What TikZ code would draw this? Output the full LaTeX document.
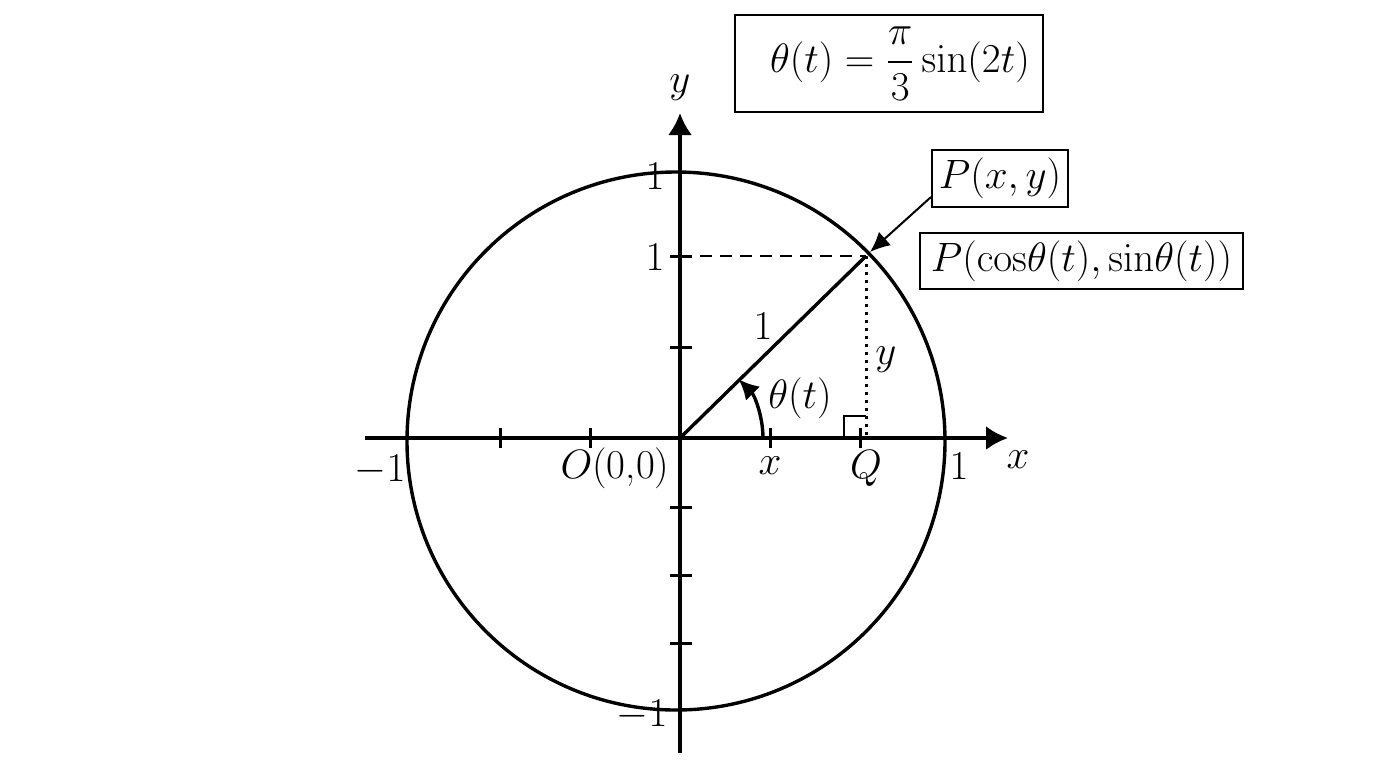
\RequirePackage{fix-cm}
\documentclass[tikz,border=0pt]{standalone}
\usepackage{amsmath}
\usetikzlibrary{arrows.meta}

\begin{document}
\begin{tikzpicture}
    [every node/.style={inner sep=0pt}, font=\fontsize{20.5}{24}\selectfont]
        \useasboundingbox (0pt, 0pt) rectangle (688pt, -384pt);
        \coordinate (O) at (340pt, -219pt);
        \coordinate (C) at (338pt, -220.5pt);
        \coordinate (P) at (433pt, -128pt);
        \coordinate (Q) at (433pt, -219pt);
        \coordinate (Yone) at (340pt, -128pt);
        \coordinate (xl) at (182.5pt, -219pt);
        \coordinate (xr) at (504pt, -219pt);
        \coordinate (yb) at (340pt, -376.5pt);
        \coordinate (yt) at (340pt, -56.5pt);
        \draw [line width=1.7pt, color=black] (C) circle (134.5pt);
        \draw [line width=1.7pt, -{Latex[length=11pt, width=12pt]}, color=black] (xl) to (xr);
        \draw [line width=1.7pt, -{Latex[length=11pt, width=12pt]}, color=black] (yb) to (yt);
        % ticks
        \draw [line width=1.5pt] (250pt, -214pt) to (250pt, -224pt);
        \draw [line width=1.5pt] (295pt, -214pt) to (295pt, -224pt);
        \draw [line width=1.5pt] (385pt, -214pt) to (385pt, -224pt);
        \draw [line width=1.5pt] (430pt, -214pt) to (430pt, -224pt);
        \draw [line width=1.5pt] (335pt, -128pt) to (346pt, -128pt);
        \draw [line width=1.5pt] (335pt, -173.5pt) to (346pt, -173.5pt);
        \draw [line width=1.5pt] (335pt, -253.5pt) to (346pt, -253.5pt);
        \draw [line width=1.5pt] (335pt, -287.5pt) to (346pt, -287.5pt);
        \draw [line width=1.5pt] (335pt, -321.5pt) to (346pt, -321.5pt);
        % radius, projections, angle
        \draw [line width=1.7pt, color=black] (O) to (P);
        \draw [line width=1pt, dash pattern=on 6pt off 4pt, color=black] (Yone) to (P);
        \draw [line width=1.5pt, dash pattern=on 1.5pt off 2.5pt, color=black] (P) to (Q);
        \draw [line width=1pt, color=black] ([xshift=-11pt]Q) |- ([yshift=11pt]Q);
        \draw [line width=1.7pt, -{Latex[length=10pt, width=10pt]}, color=black] ([xshift=41.5pt]O) arc (0:45:41.5pt);
        % labels
        \node (ytop) at (327.5pt, -88pt) {$1$};
        \node (yone) at (327.5pt, -128.5pt) {$1$};
        \node (xmone) at (190pt, -235pt) {$-1$};
        \node (orig) at (307.5pt, -234pt) {$O$(0,0)};
        \node (xlab) at (385pt, -233pt) {$x$};
        \node (qlab) at (433pt, -234pt) {$Q$};
        \node (xone) at (479.5pt, -233pt) {$1$};
        \node (xaxis) at (509pt, -230pt) {$x$};
        \node (yaxis) at (340pt, -44pt) {$y$};
        \node (ymone) at (321pt, -357.5pt) {$-1$};
        \node (rlab) at (381.5pt, -163pt) {$1$};
        \node (ylab) at (443pt, -180pt) {$y$};
        \node (thlab) at (400pt, -199pt) {$\theta(t)$};
        % boxes
        \node (formula) [draw=black, line width=1pt, minimum width=154pt, minimum height=48.5pt] at (444.5pt, -31.75pt) {\hspace{11pt}$\theta(t)=\dfrac{\pi}{3}\sin(2t)$};
        \node (Pxy) [draw=black, line width=1pt, minimum width=68pt, minimum height=28.5pt] at (500pt, -89.25pt) {$P(x,y)$};
        \node (Pcos) [draw=black, line width=1pt, minimum width=161.5pt, minimum height=28pt] at (540.75pt, -130.5pt) {$P(\mathrm{cos}\theta(t),\mathrm{sin}\theta(t))$};
        \coordinate (Ptail) at ([yshift=5.5pt]Pxy.south west);
        \draw [line width=1pt, -{Latex[length=10pt, width=9pt]}, color=black] (Ptail) to ([shift={(2pt,2pt)}]P);
    \end{tikzpicture}
\end{document}
